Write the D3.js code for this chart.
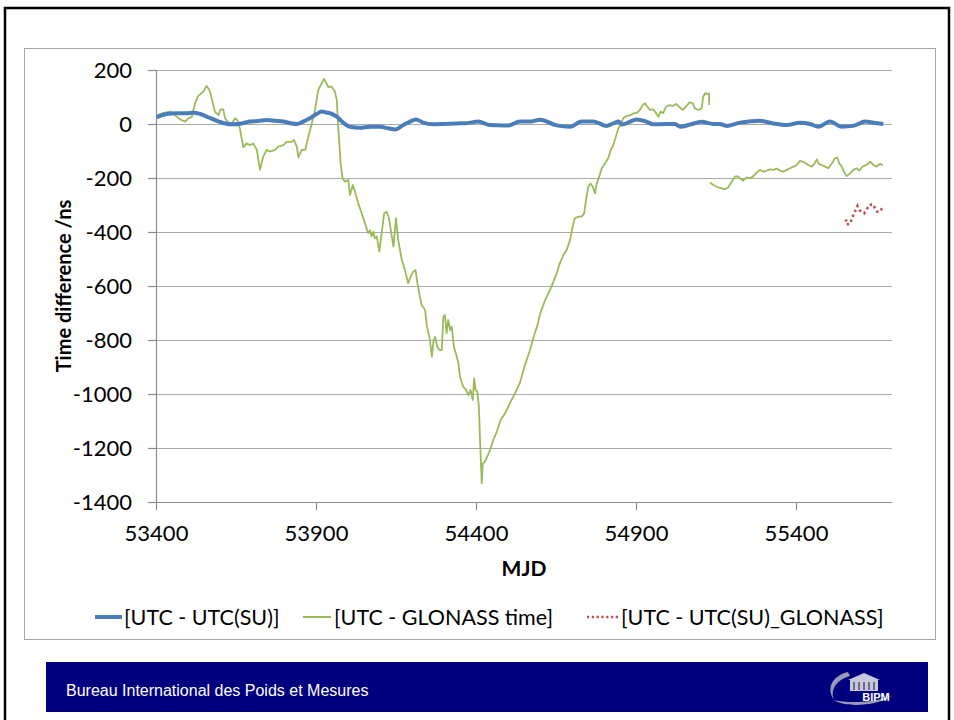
<!DOCTYPE html>
<html>
<head>
<meta charset="utf-8">
<script src="https://cdn.jsdelivr.net/npm/d3@7"></script>
<style>
  body { margin: 0; background: #fff; }
  svg { display: block; }
</style>
</head>
<body>
<svg id="chart" width="954" height="720"></svg>
<script>
// Axis ticks
const xTicks = [53400, 53900, 54400, 54900, 55400];
const yTicks = [200, 0, -200, -400, -600, -800, -1000, -1200, -1400];

// [UTC - UTC(SU)]
const suMjd = [53402,53433,53465,53496,53517,53538,53563,53590,53616,53642,53668,53694,53720,53746,53772,53798,53824,53840,53860,53881,53902,53918,53933,53944,53965,53985,54006,54038,54069,54100,54126,54147,54173,54194,54212,54235,54267,54298,54340,54370,54407,54444,54472,54501,54537,54569,54600,54652,54694,54730,54767,54780,54807,54829,54845,54857,54880,54902,54930,54954,54996,55022,55038,55072,55105,55142,55162,55183,55225,55260,55287,55329,55371,55412,55444,55470,55506,55543,55579,55616,55642,55673];
const suNs  = [25,37,40,40,42,37,25,12,2,-1,2,9,11,15,12,9,2,0,9,21,37,46,42,40,27,5,-10,-14,-10,-10,-16,-20,-4,9,17,5,-1,0,2,3,9,-4,-5,-6,9,9,16,-5,-10,9,9,5,-7,2,9,-2,8,17,10,-1,0,0,-10,-1,8,0,0,-7,5,10,12,2,-4,5,0,-10,9,-10,-7,9,5,0];

// [UTC - GLONASS time]  (null marks the data gap)
const glonassMjd = [53402,53412,53428,53444,53459,53475,53491,53501,53512,53522,53532,53548,53558,53567,53574,53584,53595,53602,53610,53616,53626,53637,53647,53654,53662,53673,53683,53694,53704,53715,53725,53735,53746,53756,53772,53782,53798,53808,53824,53831,53840,53845,53855,53866,53876,53887,53897,53907,53918,53925,53933,53938,53949,53959,53965,53970,53977,53983,53991,54001,54006,54015,54022,54032,54043,54053,54063,54069,54074,54079,54084,54090,54098,54105,54113,54121,54128,54137,54142,54150,54157,54168,54178,54188,54196,54204,54211,54217,54223,54230,54241,54246,54256,54262,54267,54272,54279,54286,54293,54298,54303,54308,54313,54319,54324,54331,54340,54345,54350,54360,54369,54376,54383,54390,54394,54399,54404,54409,54413,54418,54421,54428,54435,54444,54454,54465,54477,54491,54506,54522,54537,54553,54569,54581,54592,54600,54616,54631,54642,54652,54662,54673,54683,54694,54702,54709,54720,54730,54738,54744,54751,54758,54765,54772,54777,54785,54793,54803,54813,54821,54829,54837,54845,54852,54860,54871,54881,54894,54904,54912,54921,54928,54935,54944,54954,54962,54970,54977,54985,54994,55004,55015,55025,55035,55046,55056,55067,55077,55084,55095,55105,55110,55116,55123,55128,55129,55130,55131,55142,55157,55168,55178,55188,55199,55209,55217,55225,55235,55246,55256,55267,55277,55287,55298,55308,55319,55329,55340,55350,55360,55371,55381,55392,55402,55412,55423,55431,55438,55449,55457,55465,55471,55480,55491,55501,55512,55522,55529,55535,55543,55550,55558,55569,55579,55590,55598,55608,55619,55626,55633,55642,55652,55662,55671];
const glonassNs  = [27,37,42,46,33,17,9,21,27,77,104,120,141,126,95,46,33,54,54,21,5,2,21,15,-16,-86,-72,-78,-72,-96,-170,-121,-96,-102,-96,-84,-78,-66,-66,-59,-84,-124,-96,-96,-47,3,52,126,151,167,150,138,138,120,89,-22,-146,-201,-214,-207,-263,-226,-251,-294,-331,-368,-405,-393,-417,-399,-423,-417,-473,-405,-331,-325,-349,-417,-454,-349,-430,-504,-541,-590,-565,-547,-541,-590,-630,-670,-689,-745,-800,-862,-806,-788,-825,-837,-837,-714,-707,-775,-726,-763,-751,-825,-862,-886,-936,-973,-985,-1004,-985,-1022,-942,-985,-991,-1047,-1183,-1331,-1257,-1251,-1232,-1207,-1170,-1140,-1096,-1071,-1034,-997,-960,-893,-837,-785,-745,-705,-652,-615,-584,-553,-516,-485,-467,-430,-380,-349,-343,-343,-331,-281,-232,-220,-232,-257,-220,-195,-164,-146,-127,-96,-78,-47,-16,-4,21,30,33,40,42,52,70,77,64,52,54,42,27,46,40,64,70,67,74,64,52,64,80,77,58,52,58,101,114,111,114,70,null,-217,-226,-235,-238,-242,-235,-214,-195,-193,-201,-210,-198,-201,-193,-180,-170,-177,-173,-168,-170,-165,-173,-177,-170,-164,-158,-152,-137,-140,-146,-152,-158,-148,-131,-148,-152,-158,-164,-146,-127,-124,-146,-158,-177,-193,-183,-170,-164,-173,-158,-152,-146,-140,-152,-158,-148,-152];

// [UTC - UTC(SU)_GLONASS]
const suGlonassMjd = [55556,55558,55569,55574,55581,55588,55592,55598,55606,55613,55621,55629,55640,55647,55654,55662,55673];
const suGlonassNs  = [-353,-372,-370,-353,-331,-316,-304,-319,-325,-331,-316,-300,-297,-312,-325,-325,-304];

const seriesNames = ['[UTC - UTC(SU)]', '[UTC - GLONASS time]', '[UTC - UTC(SU)_GLONASS]'];
const colors = { su: '#4a7ebb', glonass: '#9bbb59', suGlonass: '#c0504d' };

const FONT = 'Lato, "Open Sans", sans-serif';
const svg = d3.select('#chart');

// Slide frame
svg.append('rect')
  .attr('x', 5).attr('y', 8).attr('width', 944).attr('height', 740)
  .attr('fill', '#fff').attr('stroke', '#000').attr('stroke-width', 2.5);

// Chart area box
svg.append('rect')
  .attr('x', 24.5).attr('y', 48.5).attr('width', 911).attr('height', 591)
  .attr('fill', '#fff').attr('stroke', '#a6a6a6').attr('stroke-width', 1);

const x = d3.scaleLinear().domain([53400, 55700]).range([156, 892]);
const y = d3.scaleLinear().domain([-1400, 200]).range([502, 70]);

// Horizontal gridlines
svg.append('g').selectAll('line').data(yTicks).join('line')
  .attr('x1', x(53400)).attr('x2', x(55700))
  .attr('y1', d => Math.round(y(d)) + 0.5).attr('y2', d => Math.round(y(d)) + 0.5)
  .attr('stroke', '#ababab').attr('stroke-width', 1.2);

// Axes (plain hyphen-minus for negative labels)
const fmt = d => String(d);
const gy = svg.append('g').attr('transform', `translate(${x(53400)},0)`)
  .call(d3.axisLeft(y).tickValues(yTicks).tickSize(8).tickPadding(16).tickFormat(fmt));
const gx = svg.append('g').attr('transform', `translate(0,${y(-1400)})`)
  .call(d3.axisBottom(x).tickValues(xTicks).tickSize(8).tickPadding(15).tickFormat(fmt));
[gx, gy].forEach(g => {
  g.select('.domain').attr('stroke', '#8c8c8c').attr('stroke-width', 1.2);
  g.selectAll('.tick line').attr('stroke', '#8c8c8c').attr('stroke-width', 1.2);
  g.selectAll('.tick text').attr('fill', '#000')
    .style('font-family', FONT).style('font-size', '22px');
});
gx.select('.domain').attr('d', `M${x(53400)},0.5H${x(55700)}`);
gy.select('.domain').attr('d', `M0.5,${y(200)}V${y(-1400)}`);

// Axis titles
svg.append('text')
  .attr('transform', `translate(63,${(y(200) + y(-1400)) / 2}) rotate(-90)`)
  .attr('text-anchor', 'middle').attr('dominant-baseline', 'central')
  .style('font-family', FONT).style('font-size', '20px').style('font-weight', 'bold')
  .text('Time difference /ns');
svg.append('text')
  .attr('x', (x(53400) + x(55700)) / 2).attr('y', 567)
  .attr('text-anchor', 'middle').attr('dominant-baseline', 'central')
  .style('font-family', FONT).style('font-size', '21px').style('font-weight', 'bold')
  .text('MJD');

// Plot clip
svg.append('clipPath').attr('id', 'plotClip').append('rect')
  .attr('x', x(53400)).attr('y', y(200) - 6).attr('width', x(55700) - x(53400)).attr('height', y(-1400) - y(200) + 6);

const plot = svg.append('g').attr('clip-path', 'url(#plotClip)');
const line = d3.line().defined(d => d[1] !== null).x(d => x(d[0])).y(d => y(d[1]));

plot.append('path')
  .datum(glonassMjd.map((m, i) => [m, glonassNs[i]]))
  .attr('d', line).attr('fill', 'none')
  .attr('stroke', colors.glonass).attr('stroke-width', 1.8).attr('stroke-linejoin', 'round');

plot.append('path')
  .datum(suMjd.map((m, i) => [m, suNs[i]]))
  .attr('d', line.curve(d3.curveMonotoneX)).attr('fill', 'none')
  .attr('stroke', colors.su).attr('stroke-width', 4).attr('stroke-linejoin', 'round');

plot.append('path')
  .datum(suGlonassMjd.map((m, i) => [m, suGlonassNs[i]]))
  .attr('d', d3.line().x(d => x(d[0])).y(d => y(d[1]))).attr('fill', 'none')
  .attr('stroke', colors.suGlonass).attr('stroke-width', 2.6).attr('stroke-dasharray', '2.4 3');

// Legend
const legendY = 617;
const legendItems = [
  { x0: 95, x1: 122, tx: 124, color: colors.su, width: 4, dash: null, name: seriesNames[0] },
  { x0: 303, x1: 331, tx: 334, color: colors.glonass, width: 2, dash: null, name: seriesNames[1] },
  { x0: 587, x1: 619, tx: 621, color: colors.suGlonass, width: 2.4, dash: '2.2 2.6', name: seriesNames[2] }
];
const lg = svg.append('g').selectAll('g').data(legendItems).join('g');
lg.append('line')
  .attr('x1', d => d.x0).attr('x2', d => d.x1).attr('y1', legendY).attr('y2', legendY)
  .attr('stroke', d => d.color).attr('stroke-width', d => d.width)
  .attr('stroke-dasharray', d => d.dash);
lg.append('text')
  .attr('x', d => d.tx).attr('y', legendY).attr('dominant-baseline', 'central')
  .style('font-family', FONT).style('font-size', '21.5px')
  .text(d => d.name);

// Footer band
svg.append('rect')
  .attr('x', 46).attr('y', 662).attr('width', 882).attr('height', 50)
  .attr('fill', '#00007f');
svg.append('text')
  .attr('x', 66).attr('y', 690).attr('dominant-baseline', 'central')
  .style('font-family', '"Liberation Sans", Arial, sans-serif').style('font-size', '16px')
  .attr('fill', '#fff')
  .text('Bureau International des Poids et Mesures');

// BIPM emblem
const logo = svg.append('g').attr('transform', 'translate(826,670)');
logo.append('path')
  .attr('d', 'M22,2 C6,6 0,18 8,30 C4,20 10,10 24,6 Z')
  .attr('fill', '#9a9ab8');
logo.append('path')
  .attr('d', 'M8,30 C20,38 50,36 66,26 C50,32 24,34 8,30 Z')
  .attr('fill', '#9a9ab8');
logo.append('rect').attr('x', 24).attr('y', 9).attr('width', 28).attr('height', 12).attr('fill', '#c8c8dc');
logo.append('path').attr('d', 'M22,10 L38,3 L54,10 Z').attr('fill', '#c8c8dc');
logo.selectAll('rect.col').data([27, 32, 37, 42, 47]).join('rect')
  .attr('x', d => d).attr('y', 12).attr('width', 2).attr('height', 8).attr('fill', '#6a6a90');
logo.append('text')
  .attr('x', 50).attr('y', 31).attr('text-anchor', 'middle')
  .style('font-family', '"Liberation Sans", Arial, sans-serif').style('font-size', '11px').style('font-weight', 'bold')
  .attr('fill', '#fff').text('BIPM');
</script>
</body>
</html>
